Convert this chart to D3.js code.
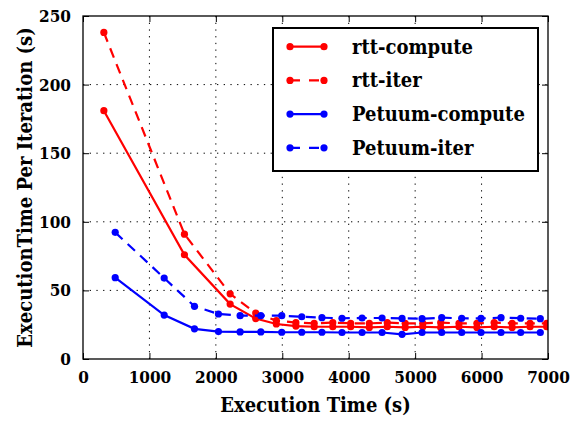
<!DOCTYPE html>
<html><head><meta charset="utf-8">
<script src="https://cdn.jsdelivr.net/npm/d3@7/dist/d3.min.js"></script>
<style>
body{margin:0;background:#fff}
svg text{font-stretch:condensed}
</style>
</head><body>
<svg id="chart" width="577" height="421"></svg>
<script>
// ---- data ----
const rttX = [314, 1527, 2215, 2600, 2910, 3205, 3480, 3760, 4030, 4310, 4580, 4850, 5115, 5385, 5660, 5930, 6190, 6460, 6730, 6980];
const rttCompute = [181, 76, 40, 29.5, 25.5, 24, 23.5, 23.5, 23.5, 23, 23.5, 23, 23.5, 23, 23.5, 23, 23.5, 23, 23.5, 23.5];
const rttIter = [238, 91, 47.5, 33.5, 28, 26.5, 26, 26.5, 26, 26, 26.5, 26, 26, 26.5, 26, 26, 26.5, 26, 26, 26];
const petuumX = [485, 1222, 1678, 2039, 2365, 2677, 2992, 3293, 3597, 3899, 4201, 4502, 4803, 5104, 5400, 5701, 5992, 6293, 6589, 6884];
const petuumCompute = [59.3, 32, 22, 20, 19.7, 19.7, 19.5, 19.5, 19.5, 19.3, 19.3, 19.3, 18.0, 19.3, 19.3, 19.3, 19.3, 19.3, 19.3, 19.3];
const petuumIter = [92.3, 59, 38.4, 32.8, 31.6, 31.6, 31.6, 30.8, 30.1, 29.7, 29.9, 29.9, 29.6, 29.4, 30.1, 29.7, 29.6, 30.1, 29.7, 29.4];
const xTicks = [0, 1000, 2000, 3000, 4000, 5000, 6000, 7000];
const yTicks = [0, 50, 100, 150, 200, 250];
const seriesNames = ["rtt-compute", "rtt-iter", "Petuum-compute", "Petuum-iter"];
const xLabel = "Execution Time (s)";
const yLabel = "ExecutionTime Per Iteration (s)";

// ---- layout ----
const L = 83, R = 548, T = 16, B = 359;
const FONT = '"DejaVu Serif Condensed","DejaVu Serif",serif';
const svg = d3.select("#chart");
const x = d3.scaleLinear().domain([0, 7000]).range([L, R]);
const y = d3.scaleLinear().domain([0, 250]).range([B, T]);

const series = [
  {name: seriesNames[0], xs: rttX, ys: rttCompute, color: "#ff0000", dash: null},
  {name: seriesNames[1], xs: rttX, ys: rttIter, color: "#ff0000", dash: "10,7"},
  {name: seriesNames[2], xs: petuumX, ys: petuumCompute, color: "#0000ff", dash: null},
  {name: seriesNames[3], xs: petuumX, ys: petuumIter, color: "#0000ff", dash: "10,7"}
];

const grid = svg.append("g");
grid.selectAll(".gx").data(xTicks.slice(1, -1)).enter().append("line")
  .attr("x1", d => x(d)).attr("x2", d => x(d)).attr("y1", T).attr("y2", B)
  .attr("stroke", "#000").attr("stroke-width", 1).attr("stroke-dasharray", "1.3,5.4");
grid.selectAll(".gy").data(yTicks.slice(1, -1)).enter().append("line")
  .attr("y1", d => y(d)).attr("y2", d => y(d)).attr("x1", L).attr("x2", R)
  .attr("stroke", "#000").attr("stroke-width", 1).attr("stroke-dasharray", "1.3,5.4");

svg.append("clipPath").attr("id", "clip").append("rect")
  .attr("x", L).attr("y", T).attr("width", R - L).attr("height", B - T);
const plot = svg.append("g").attr("clip-path", "url(#clip)");
series.forEach(s => {
  const pts = s.xs.map((v, i) => [v, s.ys[i]]);
  const line = d3.line().x(d => x(d[0])).y(d => y(d[1]));
  plot.append("path").datum(pts).attr("d", line)
    .attr("fill", "none").attr("stroke", s.color).attr("stroke-width", 2.2)
    .attr("stroke-dasharray", s.dash);
  plot.selectAll(null).data(pts).enter().append("circle")
    .attr("cx", d => x(d[0])).attr("cy", d => y(d[1])).attr("r", 3.6)
    .attr("fill", s.color);
});

const fmt = d3.format("d");
const xAxisB = d3.axisBottom(x).tickValues(xTicks).tickFormat(fmt).tickSizeInner(-6).tickSizeOuter(0).tickPadding(12);
const xAxisT = d3.axisTop(x).tickValues(xTicks).tickSizeInner(-6).tickSizeOuter(0).tickFormat("");
const yAxisL = d3.axisLeft(y).tickValues(yTicks).tickFormat(fmt).tickSizeInner(-6).tickSizeOuter(0).tickPadding(12);
const yAxisR = d3.axisRight(y).tickValues(yTicks).tickSizeInner(-6).tickSizeOuter(0).tickFormat("");
const gB = svg.append("g").attr("transform", `translate(0,${B})`).call(xAxisB);
const gT = svg.append("g").attr("transform", `translate(0,${T})`).call(xAxisT);
const gL = svg.append("g").attr("transform", `translate(${L},0)`).call(yAxisL);
const gR = svg.append("g").attr("transform", `translate(${R},0)`).call(yAxisR);
[gB, gT, gL, gR].forEach(g => {
  g.attr("font-family", FONT).attr("font-size", 17).attr("font-weight", "bold");
  g.select(".domain").remove();
  g.selectAll(".tick line").attr("stroke", "#000").attr("stroke-width", 1);
  g.selectAll("text").attr("fill", "#000");
});
svg.append("rect").attr("x", L).attr("y", T).attr("width", R - L).attr("height", B - T)
  .attr("fill", "none").attr("stroke", "#000").attr("stroke-width", 1.3);

svg.append("text").attr("x", (L + R) / 2).attr("y", 412).attr("text-anchor", "middle")
  .attr("font-family", FONT).attr("font-weight", "bold").attr("font-size", 20).text(xLabel);
svg.append("text").attr("transform", `translate(32,${(T + B) / 2}) rotate(-90)`)
  .attr("font-family", FONT).attr("font-weight", "bold").attr("text-anchor", "middle").attr("font-size", 20).text(yLabel);

const lg = svg.append("g");
lg.append("rect").attr("x", 273).attr("y", 28).attr("width", 265).attr("height", 143)
  .attr("fill", "#fff").attr("stroke", "#000").attr("stroke-width", 2);
series.forEach((s, i) => {
  const yy = 46.7 + i * 33.7;
  lg.append("line").attr("x1", 290).attr("x2", 324).attr("y1", yy).attr("y2", yy)
    .attr("stroke", s.color).attr("stroke-width", 2.2).attr("stroke-dasharray", s.dash ? "10,9" : null);
  lg.append("circle").attr("cx", 290).attr("cy", yy).attr("r", 3.6).attr("fill", s.color);
  lg.append("circle").attr("cx", 324).attr("cy", yy).attr("r", 3.6).attr("fill", s.color);
  lg.append("text").attr("x", 352).attr("y", yy).attr("dy", "0.35em")
    .attr("font-family", FONT).attr("font-weight", "bold").attr("font-size", 20).text(s.name);
});
</script>
</body></html>
